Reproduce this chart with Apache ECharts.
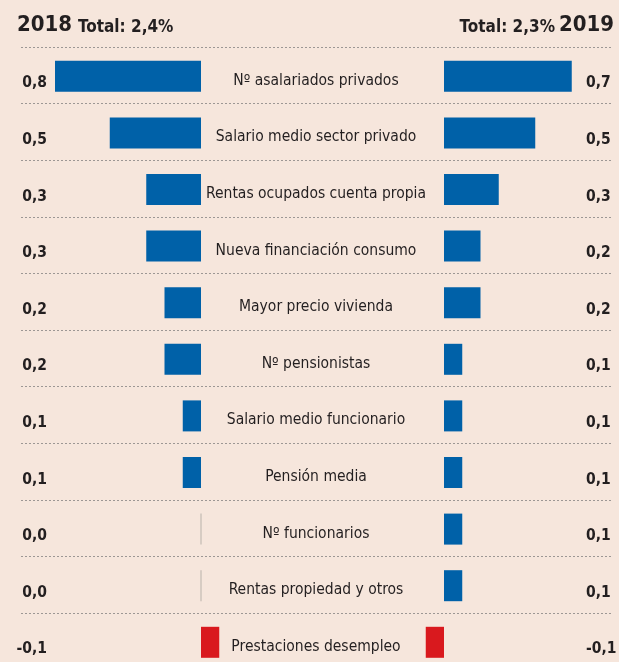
<!DOCTYPE html>
<html>
<head>
<meta charset="utf-8">
<script src="https://cdn.jsdelivr.net/npm/echarts@6/dist/echarts.min.js"></script>
<style>
  html, body { margin: 0; padding: 0; background: #f6e6dc; }
  #chart { width: 619px; height: 662px; }
</style>
</head>
<body>
<div id="chart"></div>
<script>
// data
const categories = [
  'Nº asalariados privados',
  'Salario medio sector privado',
  'Rentas ocupados cuenta propia',
  'Nueva financiación consumo',
  'Mayor precio vivienda',
  'Nº pensionistas',
  'Salario medio funcionario',
  'Pensión media',
  'Nº funcionarios',
  'Rentas propiedad y otros',
  'Prestaciones desempleo'
]
const values2018 = [0.8, 0.5, 0.3, 0.3, 0.2, 0.2, 0.1, 0.1, 0.0, 0.0, -0.1]
const values2019 = [0.7, 0.5, 0.3, 0.2, 0.2, 0.1, 0.1, 0.1, 0.1, 0.1, -0.1]
const years = ['2018', '2019']
const totals = ['Total: 2,4%', 'Total: 2,3%']

const FONT = "'Liberation Sans Narrow', 'DejaVu Sans Condensed', sans-serif"
const TEXT = '#231f20'
const BLUE = '#0061a8'
const RED = '#d9191e'

const fmt = v => v.toFixed(1).replace('.', ',')
const barColor = p => (p.value < 0 ? RED : BLUE)
const zeros = vals => vals.map((v, i) => (v === 0 ? [0, categories[i]] : null)).filter(Boolean)

// the last row runs past the bottom edge of the picture, so grids are not kept inside it
const rowsHeight = 56.6 * categories.length
const rows = (top) => ({ top: top, height: rowsHeight, outerBoundsMode: 'none' })
const hidden = { axisLine: { show: false }, axisTick: { show: false }, splitLine: { show: false } }

const chart = echarts.init(document.getElementById('chart'))
chart.setOption({
  backgroundColor: '#f6e6dc',
  animation: false,
  title: [
    { text: years[0], left: 17, top: 14, padding: 0, textStyle: { fontSize: 22, fontWeight: 'bold', color: TEXT, fontFamily: FONT } },
    { text: totals[0], left: 78, top: 19, padding: 0, textStyle: { fontSize: 17, fontWeight: 'bold', color: TEXT, fontFamily: FONT } },
    { text: totals[1], right: 64, top: 19, padding: 0, textStyle: { fontSize: 17, fontWeight: 'bold', color: TEXT, fontFamily: FONT } },
    { text: years[1], right: 5, top: 14, padding: 0, textStyle: { fontSize: 22, fontWeight: 'bold', color: TEXT, fontFamily: FONT } }
  ],
  grid: [
    // dotted row separators
    { left: 21, width: 591, ...rows(47) },
    // 2018 bars (mirrored) and 2019 bars
    { left: 18.5, width: 219, ...rows(48) },
    { left: 407.5, width: 200.75, ...rows(48) },
    // value columns and names sit a bit lower than the row centres
    { left: 21, width: 591, ...rows(55) },
    { left: 21, width: 591, ...rows(52.5) }
  ],
  xAxis: [
    { gridIndex: 0, type: 'value', show: false },
    { gridIndex: 1, type: 'value', inverse: true, min: -0.2, max: 1.0, show: false },
    { gridIndex: 2, type: 'value', min: -0.2, max: 0.9, show: false },
    { gridIndex: 3, type: 'value', show: false },
    { gridIndex: 4, type: 'value', show: false }
  ],
  yAxis: [
    {
      gridIndex: 0, type: 'category', data: categories, inverse: true,
      axisLine: { show: false }, axisTick: { show: false }, axisLabel: { show: false },
      splitLine: { show: true, lineStyle: { type: [2, 2], color: '#9c9794', width: 1 } }
    },
    { gridIndex: 1, type: 'category', data: categories, inverse: true, show: false },
    { gridIndex: 2, type: 'category', data: categories, inverse: true, show: false },
    {
      gridIndex: 3, type: 'category', data: categories, inverse: true, position: 'left', offset: -26, ...hidden,
      axisLabel: {
        formatter: (v, i) => fmt(values2018[i]), align: 'right', margin: 0,
        fontSize: 15.5, fontWeight: 'bold', color: TEXT, fontFamily: FONT
      }
    },
    {
      gridIndex: 3, type: 'category', data: categories, inverse: true, position: 'right', offset: -26, ...hidden,
      axisLabel: {
        formatter: (v, i) => fmt(values2019[i]), align: 'left', margin: 0,
        fontSize: 15.5, fontWeight: 'bold', color: TEXT, fontFamily: FONT
      }
    },
    {
      gridIndex: 4, type: 'category', data: categories, inverse: true, position: 'left', offset: -295, ...hidden,
      axisLabel: { align: 'center', margin: 0, fontSize: 15.5, color: TEXT, fontFamily: FONT }
    }
  ],
  series: [
    { name: years[0], type: 'bar', xAxisIndex: 1, yAxisIndex: 1, data: values2018, barWidth: 31, itemStyle: { color: barColor } },
    { name: years[1], type: 'bar', xAxisIndex: 2, yAxisIndex: 2, data: values2019, barWidth: 31, itemStyle: { color: barColor } },
    { type: 'scatter', xAxisIndex: 1, yAxisIndex: 1, data: zeros(values2018), symbol: 'rect', symbolSize: [1, 31], itemStyle: { color: '#aaa49f' } },
    { type: 'scatter', xAxisIndex: 2, yAxisIndex: 2, data: zeros(values2019), symbol: 'rect', symbolSize: [1, 31], itemStyle: { color: '#aaa49f' } }
  ]
})
</script>
</body>
</html>
